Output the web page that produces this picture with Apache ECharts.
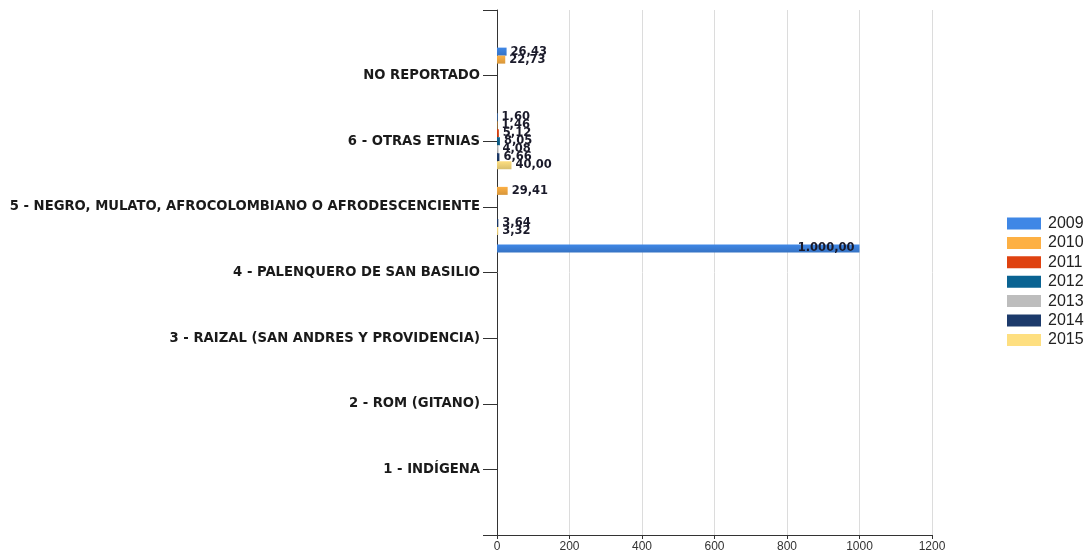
<!DOCTYPE html>
<html>
<head>
<meta charset="utf-8">
<script src="https://cdn.jsdelivr.net/npm/echarts@6/dist/echarts.min.js"></script>
<style>
html,body{margin:0;padding:0;background:#fff;}
#chart{width:1091px;height:558px;}
</style>
</head>
<body>
<div id="chart"></div>
<script>
// Categories, top to bottom
const categories = [
  'NO REPORTADO',
  '6 - OTRAS ETNIAS',
  '5 - NEGRO, MULATO, AFROCOLOMBIANO O AFRODESCENCIENTE',
  '4 - PALENQUERO DE SAN BASILIO',
  '3 - RAIZAL (SAN ANDRES Y PROVIDENCIA)',
  '2 - ROM (GITANO)',
  '1 - INDÍGENA'
];
const years = ['2009', '2010', '2011', '2012', '2013', '2014', '2015'];
const v2009 = [26.43, 1.60, null, 1000.00, null, null, null];
const v2010 = [22.73, 1.46, 29.41, null, null, null, null];
const v2011 = [null, 5.12, null, null, null, null, null];
const v2012 = [null, 8.05, null, null, null, null, null];
const v2013 = [null, 4.08, null, null, null, null, null];
const v2014 = [null, 6.66, 3.64, null, null, null, null];
const v2015 = [null, 40.00, 3.32, null, null, null, null];
const xTicks = [0, 200, 400, 600, 800, 1000, 1200];

const seriesValues = [v2009, v2010, v2011, v2012, v2013, v2014, v2015];
const colors = ['#3f87e6', '#fdb044', '#df4210', '#0a6392', '#bdbdbd', '#1c3a6b', '#fedf80'];

function darken(hex, f) {
  const n = parseInt(hex.slice(1), 16);
  const r = Math.round(((n >> 16) & 255) * f), g = Math.round(((n >> 8) & 255) * f), b = Math.round((n & 255) * f);
  return 'rgb(' + r + ',' + g + ',' + b + ')';
}
function fmt(v) {
  const p = v.toFixed(2).split('.');
  return p[0].replace(/\B(?=(\d{3})+(?!\d))/g, '.') + ',' + p[1];
}

// pad with blank categories so ticks fall like the original axis
const yCats = [' '].concat(categories, ['  ']);
const chart = echarts.init(document.getElementById('chart'));

const series = years.map((y, i) => ({
  name: y,
  type: 'bar',
  barWidth: 8,
  barGap: '0%',
  itemStyle: {
    color: new echarts.graphic.LinearGradient(0, 0, 0, 1, [
      {offset: 0, color: colors[i]},
      {offset: 1, color: darken(colors[i], 0.85)}
    ])
  },
  data: [null].concat(seriesValues[i].map(v => {
    if (v === null) return null;
    const big = v > 600;
    return {
      value: v,
      label: {
        show: true,
        position: big ? 'insideRight' : 'right',
        distance: big ? 5 : 4,
        formatter: p => fmt(p.value),
        fontFamily: 'DejaVu Sans',
        fontWeight: 'bold',
        fontSize: 11.5,
        color: '#1a1a2a'
      }
    };
  }), [null])
}));

chart.setOption({
  animation: false,
  color: colors,
  grid: {left: 497, right: 159, top: 10, bottom: 23, containLabel: false},
  legend: {
    orient: 'vertical',
    left: 1007,
    top: 215.5,
    padding: 0,
    itemWidth: 34,
    itemHeight: 12,
    itemGap: 3.4,
    icon: 'rect',
    textStyle: {fontFamily: 'Liberation Sans', fontSize: 16, color: '#222', padding: [0, 0, 0, 2]},
    data: years.map((y, i) => ({name: y, itemStyle: {color: colors[i]}}))
  },
  xAxis: {
    type: 'value',
    min: xTicks[0],
    max: xTicks[xTicks.length - 1],
    interval: xTicks[1] - xTicks[0],
    axisLine: {show: true, lineStyle: {color: '#333', width: 1}},
    axisTick: {show: true, length: 4, lineStyle: {color: '#333'}},
    axisLabel: {margin: 6, fontFamily: 'Liberation Sans', fontSize: 12, color: '#333', formatter: v => String(v)},
    splitLine: {show: true, lineStyle: {color: '#dcdcdc', width: 1}}
  },
  yAxis: {
    type: 'category',
    data: yCats,
    inverse: true,
    boundaryGap: false,
    axisLine: {show: true, onZero: false, lineStyle: {color: '#333', width: 1}},
    axisTick: {show: true, length: 14, interval: 0, lineStyle: {color: '#333'}},
    axisLabel: {interval: 0, margin: 17, fontFamily: 'DejaVu Sans', fontWeight: 'bold', fontSize: 13.2, color: '#1a1a1a'},
    splitLine: {show: false}
  },
  series: series
});
</script>
</body>
</html>
